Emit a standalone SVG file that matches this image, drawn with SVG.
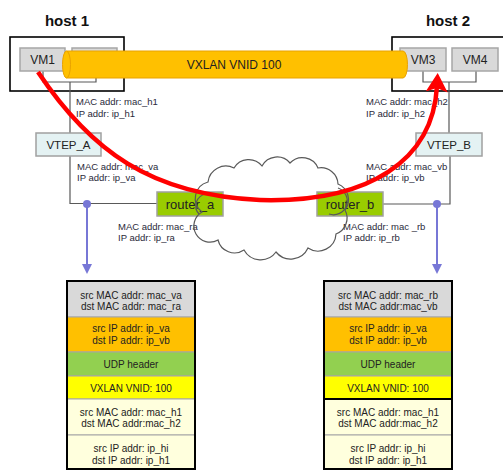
<svg xmlns="http://www.w3.org/2000/svg" width="503" height="470" viewBox="0 0 503 470">
<defs>
<style>
text{font-family:"Liberation Sans",Arial,sans-serif;}
.host{fill:none;stroke:#000;stroke-width:1.6;}
.hostt{font-size:15px;font-weight:bold;fill:#111;text-anchor:middle;}
.vm{fill:#D9D9D9;stroke:#A6A6A6;stroke-width:1.5;}
.vtep{fill:#E4F2F3;stroke:#A0A0A0;stroke-width:1.5;}
.rtr{fill:#99CC00;stroke:#A0A0A0;stroke-width:1.5;}
.nt{font-size:12px;fill:#222;text-anchor:middle;}
.rt{font-size:13px;fill:#222;text-anchor:middle;}
.lbl{font-size:9.5px;fill:#2a2a3a;}
.wire{fill:none;stroke:#595959;stroke-width:1.2;}
.cl{fill:none;stroke:#595959;stroke-width:1.2;}
.st{font-size:10px;fill:#222;text-anchor:middle;}
.row{stroke:#A6A6A6;stroke-width:1;}
.box{fill:none;stroke:#000;stroke-width:2;}
.blue{stroke:#7777D6;stroke-width:2;fill:none;}
</style>
<marker id="redhead" markerUnits="userSpaceOnUse" markerWidth="22" markerHeight="24" refX="6" refY="12" orient="auto" viewBox="0 0 22 24">
<path d="M0,1 L19,12 L0,23 L4,12 z" fill="#FF0000"/>
</marker>
<marker id="bluehead" markerUnits="userSpaceOnUse" markerWidth="10" markerHeight="10" refX="2" refY="5" orient="auto" viewBox="0 0 10 10">
<path d="M0,0 L10,5 L0,10 z" fill="#7777D6"/>
</marker>
</defs>
<rect width="503" height="470" fill="#fff"/>

<g id="host1">
<text class="hostt" x="67" y="26">host 1</text>
<rect class="host" x="10" y="37" width="114" height="54"/>
</g>
<g id="host2">
<text class="hostt" x="448" y="26">host 2</text>
<rect class="host" x="392" y="37" width="120" height="54"/>
</g>

<g id="connectors">
<path class="wire" d="M43,71 V82 H96 V71 M70,82 V133"/>
<path class="wire" d="M423,71 V82 H476 V71 M449,82 V133"/>
<path class="wire" d="M70,156 V203.5 H157"/>
<path class="wire" d="M450,156 V204 H383"/>
</g>

<g id="VM1"><rect class="vm" x="20" y="48" width="45" height="23"/><text class="nt" x="42.5" y="64">VM1</text></g>
<g id="VM2"><rect class="vm" x="72" y="48" width="45" height="23"/></g>
<g id="VM3"><rect class="vm" x="400" y="48" width="46" height="23"/><text class="nt" x="423" y="64">VM3</text></g>
<g id="VM4"><rect class="vm" x="452" y="48" width="46" height="23"/><text class="nt" x="475" y="64">VM4</text></g>

<g id="vxlan">
<path d="M66.5,51 L403,51 A4.5,13.5 0 0 1 403,78 L66.5,78 Z" fill="#FFC000" stroke="#E9A200" stroke-width="1"/>
<ellipse cx="66.5" cy="64.5" rx="4" ry="13.5" fill="#FFC000" stroke="#E9A200" stroke-width="1"/>
<text class="nt" x="234" y="68.5">VXLAN VNID 100</text>
</g>

<g id="VTEP_A"><rect class="vtep" x="36" y="133" width="65" height="23"/><text class="nt" x="68.5" y="149" style="font-size:11.5px">VTEP_A</text></g>
<g id="VTEP_B"><rect class="vtep" x="416" y="133" width="66" height="23"/><text class="nt" x="449" y="149" style="font-size:11.5px">VTEP_B</text></g>

<g id="router_a"><rect class="rtr" x="157" y="192" width="66" height="24"/><text class="rt" x="190" y="208.5">router_a</text></g>
<g id="router_b"><rect class="rtr" x="317" y="192" width="66" height="24"/><text class="rt" x="350" y="208.5">router_b</text></g>

<g id="labels">
<text class="lbl" x="76" y="105">MAC addr: mac_h1</text>
<text class="lbl" x="76" y="117">IP addr: ip_h1</text>
<text class="lbl" x="77" y="169.5">MAC addr: mac_va</text>
<text class="lbl" x="77" y="181">IP addr: ip_va</text>
<text class="lbl" x="118" y="229.5">MAC addr: mac_ra</text>
<text class="lbl" x="118" y="241">IP addr: ip_ra</text>
<text class="lbl" x="366" y="105">MAC addr: mac_h2</text>
<text class="lbl" x="366" y="117">IP addr: ip_h2</text>
<text class="lbl" x="366" y="169.5">MAC addr: mac_vb</text>
<text class="lbl" x="366" y="181">IP addr: ip_vb</text>
<text class="lbl" x="343" y="229.5">MAC addr: mac _rb</text>
<text class="lbl" x="343" y="241">IP addr: ip_rb</text>
</g>

<g id="cloud">
<path class="cl" d="M202,212 A17,17 0 0 1 208,182 A18,18 0 0 1 234,168 A17,17 0 0 1 262,166 A17,17 0 0 1 290,163 A17,17 0 0 1 318,168 A17,17 0 0 1 338,184 A17,17 0 0 1 345,210 A17,17 0 0 1 336,234 A18,18 0 0 1 308,248 A19,19 0 0 1 276,252 A19,19 0 0 1 244,250 A17,17 0 0 1 218,240 A15,15 0 0 1 202,212 Z"/>
<path class="cl" d="M199,214 A12,12 0 0 1 206,194"/>
<path class="cl" d="M338,188 A12,12 0 0 1 329,214"/>
</g>

<g id="flow">
<path d="M38,72 C90,150 150,195 260,200 C370,203 433,160 437,86" fill="none" stroke="#FF0000" stroke-width="4.5" marker-end="url(#redhead)"/>
</g>

<g id="taps">
<line class="blue" x1="87" y1="204" x2="87" y2="266" marker-end="url(#bluehead)"/>
<circle cx="87" cy="204" r="4" fill="#7777D6"/>
<line class="blue" x1="437" y1="204" x2="437" y2="266" marker-end="url(#bluehead)"/>
<circle cx="437" cy="204" r="4" fill="#7777D6"/>
</g>

<g id="packet_a">
<rect class="row" x="67" y="281" width="128" height="36" fill="#D9D9D9"/>
<rect class="row" x="67" y="317" width="128" height="35" fill="#FFC000"/>
<rect class="row" x="67" y="352" width="128" height="24" fill="#92D050"/>
<rect class="row" x="67" y="376" width="128" height="23" fill="#FFFF00"/>
<rect class="row" x="67" y="399" width="128" height="36" fill="#FFFFDD"/>
<rect class="row" x="67" y="435" width="128" height="34" fill="#FFFFDD"/>
<rect class="box" x="67" y="281" width="128" height="188"/>
<text class="st" x="131" y="298.5">src MAC addr: mac_va</text>
<text class="st" x="131" y="309.5">dst MAC addr: mac_ra</text>
<text class="st" x="131" y="331.5">src IP addr: ip_va</text>
<text class="st" x="131" y="343.5">dst IP addr: ip_vb</text>
<text class="st" x="131" y="367.5">UDP header</text>
<text class="st" x="131" y="391.5">VXLAN VNID: 100</text>
<text class="st" x="131" y="415.5">src MAC addr: mac_h1</text>
<text class="st" x="131" y="426.5">dst MAC addr:mac_h2</text>
<text class="st" x="131" y="451.5">src IP addr: ip_hi</text>
<text class="st" x="131" y="463.5">dst IP addr: ip_h1</text>
</g>

<g id="packet_b">
<rect class="row" x="324" y="281" width="128" height="36" fill="#D9D9D9"/>
<rect class="row" x="324" y="317" width="128" height="35" fill="#FFC000"/>
<rect class="row" x="324" y="352" width="128" height="24" fill="#92D050"/>
<rect class="row" x="324" y="376" width="128" height="23" fill="#FFFF00"/>
<rect class="row" x="324" y="399" width="128" height="36" fill="#FFFFDD"/>
<rect class="row" x="324" y="435" width="128" height="34" fill="#FFFFDD"/>
<rect class="box" x="324" y="281" width="128" height="118"/>
<rect class="box" x="324" y="399" width="128" height="70"/>
<text class="st" x="388" y="298.5">src MAC addr: mac_rb</text>
<text class="st" x="388" y="309.5">dst MAC addr:mac_vb</text>
<text class="st" x="388" y="331.5">src IP addr: ip_va</text>
<text class="st" x="388" y="343.5">dst IP addr: ip_vb</text>
<text class="st" x="388" y="367.5">UDP header</text>
<text class="st" x="388" y="391.5">VXLAN VNID: 100</text>
<text class="st" x="388" y="415.5">src MAC addr: mac_h1</text>
<text class="st" x="388" y="426.5">dst MAC addr:mac_h2</text>
<text class="st" x="388" y="451.5">src IP addr: ip_hi</text>
<text class="st" x="388" y="463.5">dst IP addr: ip_h1</text>
</g>
</svg>
